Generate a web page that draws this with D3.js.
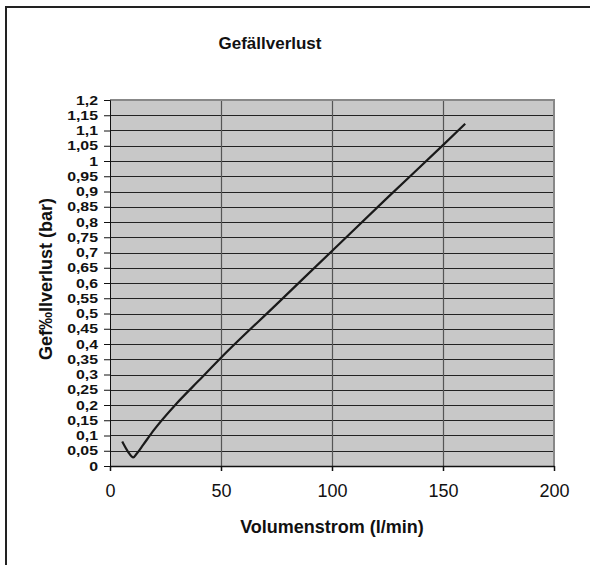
<!DOCTYPE html>
<html><head><meta charset="utf-8">
<script src="https://cdn.jsdelivr.net/npm/d3@7"></script>
<style>body{margin:0;background:#fff}svg{display:block}</style>
</head><body>
<script>
const title = "Gefällverlust";
const xTitle = "Volumenstrom (l/min)";
const yTitle = "Gef‰llverlust (bar)";
const xFlow = [5.5, 8, 10.5, 12, 15, 20, 30, 40, 50, 75, 100, 125, 150, 160];
const yLoss = [0.08, 0.048, 0.028, 0.04, 0.07, 0.12, 0.205, 0.28, 0.355, 0.53, 0.705, 0.88, 1.052, 1.122];
const xTicks = [0, 50, 100, 150, 200];
const yTicks = d3.range(0, 25).map(i => +(i * 0.05).toFixed(2));

const W = 590, H = 565;
const svg = d3.select("body").append("svg").attr("width", W).attr("height", H);
const L = 110, R = 554, T = 100, B = 466;
const x = d3.scaleLinear().domain([0, 200]).range([L, R]);
const y = d3.scaleLinear().domain([0, 1.2]).range([B, T]);

// outer frame
svg.append("path").attr("d", `M6,${H} L6,7 L${W},7`).attr("fill", "none").attr("stroke", "#222").attr("stroke-width", 2);

// plot background
svg.append("rect").attr("x", L).attr("y", T).attr("width", R - L).attr("height", B - T).attr("fill", "#c8c8c8");

// horizontal gridlines
svg.append("g").selectAll("line").data(yTicks.filter(v => v > 0 && v < 1.2)).join("line")
  .attr("x1", L).attr("x2", R).attr("y1", d => Math.round(y(d)) + 0.5).attr("y2", d => Math.round(y(d)) + 0.5)
  .attr("stroke", "#222").attr("stroke-width", 1);
// vertical gridlines
svg.append("g").selectAll("line").data(xTicks.filter(v => v > 0 && v < 200)).join("line")
  .attr("x1", d => Math.round(x(d)) + 0.5).attr("x2", d => Math.round(x(d)) + 0.5).attr("y1", T).attr("y2", B)
  .attr("stroke", "#555").attr("stroke-width", 1.2);

// plot border top/right
svg.append("path").attr("d", `M${L},${T} L${R},${T} L${R},${B}`).attr("fill", "none").attr("stroke", "#888").attr("stroke-width", 2);

// axes
const fmt = d => String(d).replace(".", ",");
const yAxis = svg.append("g").attr("transform", `translate(${L},0)`)
  .call(d3.axisLeft(y).tickValues(yTicks).tickFormat(fmt).tickSize(6).tickPadding(6));
yAxis.selectAll("text").attr("font-family", "Liberation Sans, Arial, sans-serif").attr("font-size", 13).attr("font-weight", "bold").attr("fill", "#111")
  .each(function() {
    const w = this.getComputedTextLength();
    d3.select(this).attr("textLength", w * 1.22).attr("lengthAdjust", "spacingAndGlyphs");
  });
yAxis.selectAll("line,path").attr("stroke", "#111");

const xAxis = svg.append("g").attr("transform", `translate(0,${B})`)
  .call(d3.axisBottom(x).tickValues(xTicks).tickFormat(d => d).tickSize(5).tickSizeOuter(0).tickPadding(13));
xAxis.selectAll("text").attr("font-family", "Liberation Sans, Arial, sans-serif").attr("font-size", 18).attr("fill", "#111");
xAxis.selectAll("line,path").attr("stroke", "#111").attr("stroke-width", 1.5);

// data line
svg.append("path").datum(xFlow.map((v, i) => [v, yLoss[i]]))
  .attr("d", d3.line().x(d => x(d[0])).y(d => y(d[1])).curve(d3.curveMonotoneX))
  .attr("fill", "none").attr("stroke", "#1a1a1a").attr("stroke-width", 2.2);

// titles
svg.append("text").attr("x", 270).attr("y", 49).attr("text-anchor", "middle")
  .attr("font-family", "Liberation Sans, Arial, sans-serif").attr("font-size", 17).attr("font-weight", "bold").attr("fill", "#111").text(title);
svg.append("text").attr("x", 332).attr("y", 533).attr("text-anchor", "middle")
  .attr("font-family", "Liberation Sans, Arial, sans-serif").attr("font-size", 18).attr("font-weight", "bold").attr("fill", "#111").text(xTitle);
svg.append("text").attr("transform", "translate(52,279) rotate(-90)").attr("text-anchor", "middle")
  .attr("font-family", "Liberation Sans, Arial, sans-serif").attr("font-size", 18).attr("font-weight", "bold").attr("fill", "#111").text(yTitle);
</script>
</body></html>
